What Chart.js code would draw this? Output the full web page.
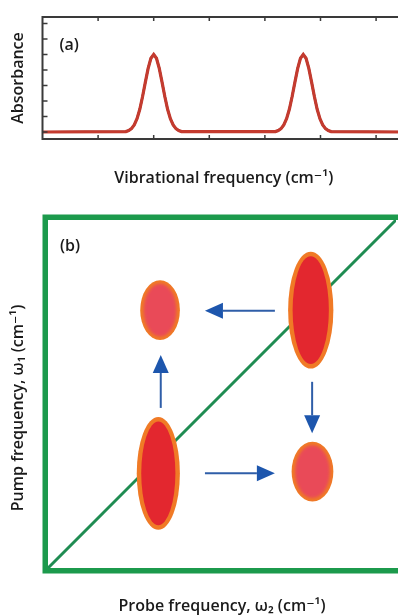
<!DOCTYPE html>
<html><head><meta charset="utf-8">
<script src="https://cdn.jsdelivr.net/npm/chart.js@4.4.1/dist/chart.umd.min.js"></script>
<style>
html,body{margin:0;padding:0;background:#fff;overflow:hidden;width:398px;height:616px;position:relative;}
#wa{position:absolute;left:0;top:0;width:420px;height:195px;}
#wb{position:absolute;left:0;top:195px;width:420px;height:421px;}
</style></head><body>
<div id="wa"><canvas id="ca"></canvas></div>
<div id="wb"><canvas id="cb"></canvas></div>
<script>
// ---------- Panel (a): linear absorption spectrum ----------
const freqX = [0, 1.5, 1.55, 1.6, 1.65, 1.7, 1.75, 1.8, 1.85, 1.9, 1.95, 2.0, 2.05, 2.1, 2.15, 2.2, 2.25, 2.3, 2.35, 2.4, 2.45, 2.5,
  4.19, 4.24, 4.29, 4.34, 4.39, 4.44, 4.49, 4.54, 4.59, 4.64, 4.69, 4.74, 4.79, 4.84, 4.89, 4.94, 4.99, 5.04, 5.09, 5.14, 5.19, 6.52];
const absorbance = [0, 0.03, 0.1, 0.22, 0.46, 0.86, 1.47, 2.29, 3.22, 4.11, 4.76, 5.0, 4.76, 4.11, 3.22, 2.29, 1.47, 0.86, 0.46, 0.22, 0.1, 0.03,
  0.03, 0.1, 0.22, 0.46, 0.86, 1.47, 2.29, 3.22, 4.11, 4.76, 5.0, 4.76, 4.11, 3.22, 2.29, 1.47, 0.86, 0.46, 0.22, 0.1, 0.03, 0];
const xTicksA = [1, 2, 3, 4, 5, 6];
const yTicksA = [0, 1, 2, 3, 4, 5, 6, 7];
const panelLabels = ['(a)', '(b)'];
const axisTitles = ['Vibrational frequency (cm⁻¹)', 'Absorbance', 'Probe frequency, ω₂ (cm⁻¹)', 'Pump frequency, ω₁ (cm⁻¹)'];

// ---------- Panel (b): 2D spectrum ----------
const diagX = [0, 1];
const diagY = [0, 1];
const spotNames = ['diagonal high', 'cross upper', 'diagonal low', 'cross lower'];
const spotX = [0.755, 0.322, 0.317, 0.760];
const spotY = [0.741, 0.741, 0.272, 0.277];
const spotRx = [0.065, 0.057, 0.062, 0.060];
const spotRy = [0.168, 0.086, 0.162, 0.086];
const spotKind = ['diag', 'cross', 'diag', 'cross'];
const arrowFromX = [0.652, 0.324, 0.759, 0.451];
const arrowFromY = [0.739, 0.460, 0.535, 0.272];
const arrowToX = [0.451, 0.324, 0.759, 0.652];
const arrowToY = [0.739, 0.612, 0.387, 0.272];

const FONT = "'Open Sans', 'DejaVu Sans', sans-serif";
Chart.defaults.font.family = FONT;
Chart.defaults.color = '#1a1a1a';
const TITLE_FONT = {size: 16, weight: '600'};

const boxA = {
  id: 'boxA',
  afterDraw(chart) {
    const {ctx, chartArea: a, scales: {x, y}} = chart;
    ctx.save();
    ctx.strokeStyle = '#3a3a3a';
    ctx.lineWidth = 2;
    ctx.strokeRect(a.left, a.top, a.right - a.left, a.bottom - a.top);
    ctx.lineWidth = 1.5;
    ctx.beginPath();
    xTicksA.forEach(v => {
      const px = x.getPixelForValue(v);
      ctx.moveTo(px, a.top); ctx.lineTo(px, a.top + 4);
      ctx.moveTo(px, a.bottom); ctx.lineTo(px, a.bottom - 4);
    });
    yTicksA.forEach(v => {
      const py = y.getPixelForValue(v);
      ctx.moveTo(a.left, py); ctx.lineTo(a.left + 5, py);
    });
    ctx.stroke();
    ctx.fillStyle = '#1a1a1a';
    ctx.font = '600 16px ' + FONT;
    ctx.textBaseline = 'middle';
    ctx.textAlign = 'left';
    ctx.fillText(panelLabels[0], a.left + 17, a.top + 28);
    ctx.restore();
  }
};

const ptsA = freqX.map((v, i) => ({x: v, y: absorbance[i]}));

new Chart(document.getElementById('ca'), {
  type: 'scatter',
  data: {datasets: [
    {data: ptsA, showLine: true, borderColor: '#c43b2f', borderWidth: 3.2, pointRadius: 0, tension: 0},
    {data: ptsA, showLine: true, borderColor: '#260d0b', borderWidth: 2.2, pointRadius: 0, tension: 0}
  ]},
  options: {
    responsive: true, maintainAspectRatio: false, animation: false,
    layout: {padding: {top: 17, right: 15, bottom: 0, left: 0}},
    plugins: {legend: {display: false}, tooltip: {enabled: false}},
    scales: {
      x: {type: 'linear', min: 0, max: 6.52,
        ticks: {display: false}, grid: {display: false}, border: {display: false},
        title: {display: true, text: axisTitles[0], font: TITLE_FONT, color: '#1a1a1a', padding: {top: 0, bottom: 7.4}},
        afterFit(s) { s.height = 56; }},
      y: {type: 'linear', min: -0.45, max: 7.42,
        ticks: {display: false}, grid: {display: false}, border: {display: false},
        title: {display: true, text: axisTitles[1], font: TITLE_FONT, color: '#1a1a1a', padding: {top: 8.4, bottom: 0}},
        afterFit(s) { s.width = 42.5; }}
    }
  },
  plugins: [boxA]
});

function arrow(ctx, x1, y1, x2, y2) {
  const ang = Math.atan2(y2 - y1, x2 - x1);
  const hl = 18, hw = 8;
  const bx = x2 - hl * Math.cos(ang), by = y2 - hl * Math.sin(ang);
  ctx.strokeStyle = '#2f5ea8';
  ctx.lineWidth = 2;
  ctx.beginPath(); ctx.moveTo(x1, y1); ctx.lineTo(bx, by); ctx.stroke();
  ctx.fillStyle = '#1d56ad';
  ctx.beginPath();
  ctx.moveTo(x2, y2);
  ctx.lineTo(bx + hw * Math.sin(ang), by - hw * Math.cos(ang));
  ctx.lineTo(bx - hw * Math.sin(ang), by + hw * Math.cos(ang));
  ctx.closePath(); ctx.fill();
}

const panelB = {
  id: 'panelB',
  afterDatasetsDraw(chart) {
    const {ctx, scales: {x, y}} = chart;
    ctx.save();
    spotX.forEach((v, i) => {
      const cx = x.getPixelForValue(v), cy = y.getPixelForValue(spotY[i]);
      const rx = Math.abs(x.getPixelForValue(v + spotRx[i]) - cx);
      const ry = Math.abs(y.getPixelForValue(spotY[i] + spotRy[i]) - cy);
      ctx.filter = 'blur(0.7px)';
      ctx.fillStyle = '#f07a26';
      ctx.beginPath(); ctx.ellipse(cx, cy, rx, ry, 0, 0, Math.PI * 2); ctx.fill();
      const ring = spotKind[i] === 'diag' ? 4.5 : 3.5;
      ctx.fillStyle = spotKind[i] === 'diag' ? '#e3272f' : '#e94a58';
      ctx.filter = spotKind[i] === 'diag' ? 'blur(0.5px)' : 'blur(1.5px)';
      ctx.beginPath(); ctx.ellipse(cx, cy, rx - ring, ry - ring, 0, 0, Math.PI * 2); ctx.fill();
    });
    ctx.filter = 'none';
    arrowFromX.forEach((v, i) => {
      arrow(ctx, x.getPixelForValue(v), y.getPixelForValue(arrowFromY[i]),
        x.getPixelForValue(arrowToX[i]), y.getPixelForValue(arrowToY[i]));
    });
    ctx.restore();
  },
  afterDraw(chart) {
    const {ctx, chartArea: a} = chart;
    ctx.save();
    ctx.strokeStyle = '#1c9a4c';
    ctx.lineWidth = 5.5;
    ctx.lineJoin = 'miter';
    ctx.strokeRect(a.left - 2.75, a.top - 2.75, a.right - a.left + 40, a.bottom - a.top + 5.5);
    ctx.fillStyle = '#1a1a1a';
    ctx.font = '600 16px ' + FONT;
    ctx.textBaseline = 'middle';
    ctx.textAlign = 'left';
    ctx.fillText(panelLabels[1], a.left + 12, a.top + 26);
    // y-axis title, placed along the left edge (slightly below the axis centre, as in the source)
    ctx.translate(18, (a.top + a.bottom) / 2 + 14);
    ctx.rotate(-Math.PI / 2);
    ctx.textAlign = 'center';
    ctx.fillText(axisTitles[3], 0, 0);
    ctx.restore();
  }
};

new Chart(document.getElementById('cb'), {
  type: 'scatter',
  data: {datasets: [
    {data: diagX.map((v, i) => ({x: v, y: diagY[i]})), showLine: true, borderColor: '#1f8c52', borderWidth: 3, pointRadius: 0}
  ]},
  options: {
    responsive: true, maintainAspectRatio: false, animation: false,
    layout: {padding: {top: 25, right: 24, bottom: 0, left: 0}},
    plugins: {legend: {display: false}, tooltip: {enabled: false}},
    scales: {
      x: {type: 'linear', min: 0, max: 1,
        ticks: {display: false}, grid: {display: false}, border: {display: false},
        title: {display: true, text: axisTitles[2], font: TITLE_FONT, color: '#1a1a1a', padding: {top: 0, bottom: 0}},
        afterFit(s) { s.height = 48; }},
      y: {type: 'linear', min: 0, max: 1,
        ticks: {display: false}, grid: {display: false}, border: {display: false},
        title: {display: false},
        afterFit(s) { s.width = 48; }}
    }
  },
  plugins: [panelB]
});
</script>
</body></html>
